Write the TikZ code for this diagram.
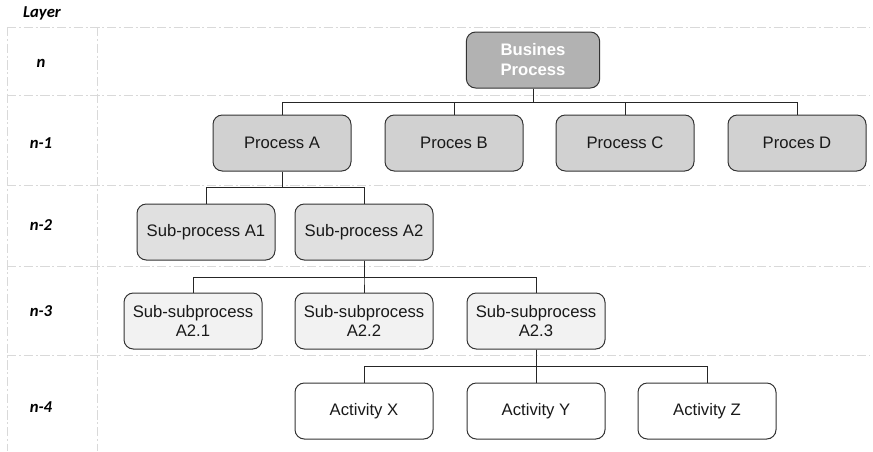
\documentclass[tikz,border=0pt]{standalone}
\usepackage{fontspec}
\setmainfont{Liberation Sans}
\newfontfamily\layerfont{Carlito}
\begin{document}
\begin{tikzpicture}[x=0.75pt,y=-0.75pt,
                    box/.style={draw=black!80,rounded corners=7pt,line width=0.75pt,minimum width=103.5pt,minimum height=42pt,inner sep=0pt,align=center,text=black!90,font=\fontsize{12.5}{14.5}\selectfont},
                    top node/.style={box,minimum width=100pt,fill=black!30,text=white,font=\fontsize{12.5}{15}\selectfont\bfseries},
                    proc node/.style={box,fill=black!18},
                    sub node/.style={box,fill=black!12},
                    subsub node/.style={box,fill=black!5},
                    act node/.style={box,fill=white},
                    layer/.style={font=\layerfont\fontsize{12.5}{14}\selectfont\bfseries\itshape},
                    grid line/.style={draw=black!15,line width=0.75pt,dash pattern=on 7pt off 2pt on 1.5pt off 2pt},
                    link/.style={draw=black!85,line width=0.75pt}
                   ]
  \useasboundingbox (0,0) rectangle (873,451);

  \foreach \y in {27,95,185,266,355}
    \draw[grid line] (7,\y) -- (870,\y);
  \draw[grid line] (7,27) -- (7,451);
  \draw[grid line] (97,27) -- (97,451);

  \node[layer] (lay) at (42,13) {Layer};
  \node[layer] (ln0) at (41,63) {n};
  \node[layer] (ln1) at (41,143) {n-1};
  \node[layer] (ln2) at (41,225) {n-2};
  \node[layer] (ln3) at (41,311) {n-3};
  \node[layer] (ln4) at (41,407) {n-4};

  \node[top node] (bp) at (533,60) {Busines\\Process};
  \node[proc node] (pa) at (282,143) {Process A};
  \node[proc node] (pb) at (454,143) {Proces B};
  \node[proc node] (pc) at (625,143) {Process C};
  \node[proc node] (pd) at (797,143) {Proces D};
  \node[sub node] (sa1) at (206,232) {Sub-process A1};
  \node[sub node] (sa2) at (364,232) {Sub-process A2};
  \node[subsub node] (ss1) at (193,321) {Sub-subprocess\\A2.1};
  \node[subsub node] (ss2) at (364,321) {Sub-subprocess\\A2.2};
  \node[subsub node] (ss3) at (536,321) {Sub-subprocess\\A2.3};
  \node[act node] (ax) at (364,411) {Activity X};
  \node[act node] (ay) at (536,411) {Activity Y};
  \node[act node] (az) at (707,411) {Activity Z};

  \coordinate (bus1) at (0,102);
  \coordinate (bus2) at (0,187);
  \coordinate (bus3) at (0,277);
  \coordinate (bus4) at (0,366);

  \foreach \c in {pa,pb,pc,pd}
    \draw[link] (bp.south) |- (\c.north |- bus1) -- (\c.north);
  \foreach \c in {sa1,sa2}
    \draw[link] (pa.south) |- (\c.north |- bus2) -- (\c.north);
  \foreach \c in {ss1,ss2,ss3}
    \draw[link] (sa2.south) |- (\c.north |- bus3) -- (\c.north);
  \foreach \c in {ax,ay,az}
    \draw[link] (ss3.south) |- (\c.north |- bus4) -- (\c.north);
\end{tikzpicture}
\end{document}
